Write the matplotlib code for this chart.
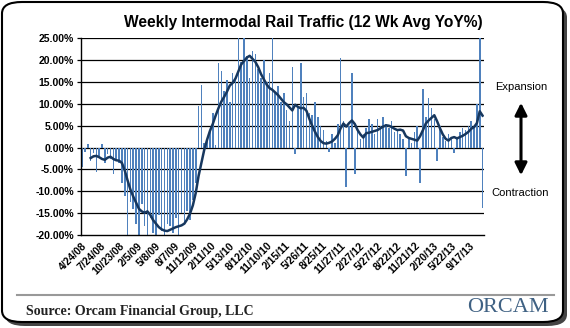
import numpy as np
import matplotlib
matplotlib.use("Agg")
import matplotlib.pyplot as plt
from matplotlib.patches import FancyBboxPatch, FancyArrowPatch
from matplotlib.lines import Line2D

# weekly YoY % (bars), roughly one value per two weeks
weekly_yoy = [
    -4.5, -1.0, 0.8, -3.0, -1.2, -5.5, -2.0, 0.8, -3.5, -1.5, -2.5, -6.0, -3.0,
    -3.5, -8.0, -11.0, -20.0, -12.5, -14.0, -17.5, -20.0, -13.0, -18.0, -20.0,
    -16.0, -19.5, -20.0, -15.5, -19.0, -20.0, -17.5, -18.0, -19.5, -16.0, -20.0,
    -15.0, -17.0, -14.5, -16.5, -12.0, -8.0, 9.5, 14.3, 1.0, 2.0, 3.5, 8.0, 0.5,
    19.3, 17.6, 13.0, 15.5, 10.5, 17.0, 16.0, 25.0, 19.5, 25.0, 21.0, 16.0, 22.0,
    21.5, 18.0, 16.0, 20.0, 15.0, 17.0, 25.0, 12.5, 14.0, 10.5, 12.5, 8.5, 6.0,
    18.5, -1.5, 9.0, 19.3, 11.5, 12.5, 8.0, 7.5, 10.5, 7.0, 5.0, 4.0, 1.5, -1.0,
    3.0, 1.0, 5.5, 20.4, 6.0, -9.1, 5.0, 17.0, -6.0, 4.0, 2.0, 3.0, 4.5, 6.5, 5.5,
    3.0, 6.5, 5.0, 7.0, 5.5, 4.5, 6.0, 3.5, 4.0, 3.0, 2.0, -6.4, 2.5, 1.0, 3.5,
    5.0, -8.2, 13.5, 7.0, 11.3, 9.0, 6.5, -3.0, 5.0, 2.5, 1.5, 3.0, 2.0, -1.2,
    2.5, 3.5, 4.5, 4.0, 5.0, 6.0, 4.5, 10.0, 25.0, -13.9,
]

# 12 week average YoY % (line)
avg_12wk = [
    np.nan, np.nan, np.nan, -2.4, -2.0, -1.9, -2.2, -2.6, -2.8, -2.3, -2.1, -2.6,
    -2.9, -3.0, -3.5, -5.2, -7.5, -9.6, -11.2, -12.6, -14.0, -14.6, -14.9, -14.6,
    -15.4, -16.6, -17.4, -18.2, -18.7, -19.0, -19.1, -18.8, -18.5, -18.2, -18.0,
    -17.8, -17.4, -16.4, -15.1, -13.2, -10.4, -6.5, -3.5, -0.5, 1.8, 3.8, 5.4,
    7.3, 9.0, 10.5, 11.6, 12.8, 14.2, 14.8, 15.8, 17.4, 19.0, 19.8, 20.6, 21.0,
    20.3, 19.6, 18.4, 16.8, 15.6, 14.4, 13.6, 13.2, 12.6, 12.0, 11.2, 10.4, 9.9,
    9.2, 8.5, 9.8, 9.3, 9.0, 9.1, 8.4, 6.6, 5.0, 3.6, 2.4, 1.5, 1.0, 0.9, 1.1,
    1.4, 2.0, 2.8, 4.4, 5.5, 4.8, 5.6, 6.2, 5.4, 4.0, 3.0, 2.3, 3.3, 3.4, 3.6,
    3.8, 4.0, 4.4, 4.8, 5.1, 5.0, 4.7, 4.3, 4.0, 4.1, 3.9, 2.6, 2.2, 2.0, 1.8,
    1.6, 2.6, 4.0, 5.5, 6.2, 6.8, 7.4, 6.0, 4.4, 3.0, 2.0, 1.6, 2.2, 2.4, 2.1,
    2.4, 2.7, 3.1, 3.6, 4.3, 4.7, 5.6, 8.3, 7.3,
]

date_labels = ["4/24/08", "7/24/08", "10/23/08", "2/5/09", "5/8/09", "8/7/09",
               "11/12/09", "2/11/10", "5/13/10", "8/12/10", "11/10/10", "2/15/11",
               "5/26/11", "8/25/11", "11/27/11", "2/27/12", "5/27/12", "8/22/12",
               "11/21/12", "2/20/13", "5/22/13", "9/17/13"]
y_ticks = [-20, -15, -10, -5, 0, 5, 10, 15, 20, 25]

plt.rcParams['font.family'] = ['Liberation Sans', 'DejaVu Sans']

fig = plt.figure(figsize=(5.7, 3.28), dpi=100)
W, H = 570, 328

# rounded frame with a small shadow
fig.patches.append(FancyBboxPatch((5 / W, 2 / H), 562 / W, 320 / H,
                                  boxstyle="round,pad=0,rounding_size=0.035",
                                  transform=fig.transFigure, facecolor='#444444',
                                  edgecolor='none', zorder=0))
fig.patches.append(FancyBboxPatch((2 / W, 6 / H), 561 / W, 320 / H,
                                  boxstyle="round,pad=0,rounding_size=0.035",
                                  transform=fig.transFigure, facecolor='white',
                                  edgecolor='black', lw=1.5, zorder=1))

ax = fig.add_axes([80.7 / W, 1 - 235 / H, (484 - 80.7) / W, (235 - 38.3) / H])
ax.set_facecolor('none')
ax.set_zorder(2)

x = np.arange(len(weekly_yoy))
ax.bar(x, weekly_yoy, width=0.55, color='#4F81BD', zorder=2)
ax.plot(x, avg_12wk, color='#17375E', lw=1.8, zorder=3)

ax.set_xlim(-0.5, len(weekly_yoy) - 0.5)
ax.set_ylim(-20, 25)
ax.set_yticks(y_ticks)
ax.set_yticklabels([f"{v:.2f}%" for v in y_ticks], fontsize=7.5, fontweight='bold')
for v in y_ticks[1:]:
    ax.axhline(v, color='black', lw=0.9, zorder=1)

ax.set_xticks(np.arange(len(date_labels)) * 6.5)
ax.set_xticklabels(date_labels, rotation=45, ha='right', va='top',
                   rotation_mode='anchor', fontsize=7.5, fontweight='bold')
ax.tick_params(axis='y', length=3, width=0.9, pad=2)
ax.tick_params(axis='x', length=0, pad=4)
for s in ['top', 'right']:
    ax.spines[s].set_visible(False)
ax.spines['left'].set_linewidth(1.0)
ax.spines['bottom'].set_linewidth(1.0)

fig.text(303 / W, 1 - 22 / H, "Weekly Intermodal Rail Traffic (12 Wk Avg YoY%)",
         ha='center', va='center', fontsize=11.2, fontweight='bold')

# expansion / contraction annotation
fig.text(521 / W, 1 - 87 / H, "Expansion", ha='center', va='center', fontsize=8)
fig.text(520 / W, 1 - 193 / H, "Contraction", ha='center', va='center', fontsize=8)
fig.patches.append(FancyArrowPatch((521 / W, 1 - 100 / H), (521 / W, 1 - 178 / H),
                                   transform=fig.transFigure, arrowstyle='<|-|>',
                                   mutation_scale=18, lw=2.2, color='black', zorder=3))

# footer
fig.lines.append(Line2D([17 / W, 554 / W], [1 - 294.5 / H, 1 - 294.5 / H],
                        transform=fig.transFigure, color='#999999', lw=1.5, zorder=3))
fig.text(26 / W, 1 - 311 / H, "Source: Orcam Financial Group, LLC", ha='left',
         va='center', fontsize=10, fontweight='bold', family='Liberation Serif',
         color='#222222')
fig.text(508 / W, 1 - 307 / H, "ORCAM", ha='center', va='center', fontsize=16,
         family='Liberation Serif', color='#3F6183')

fig.savefig('out.png', dpi=100)
